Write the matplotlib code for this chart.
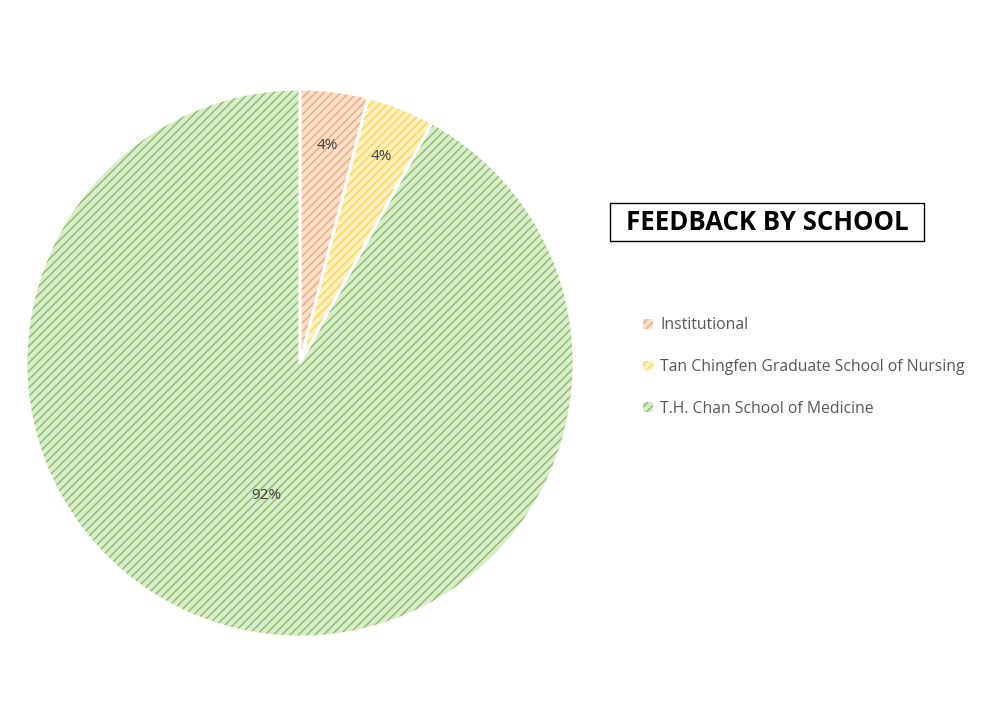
import numpy as np
import matplotlib.pyplot as plt
from matplotlib.patches import Patch, Rectangle

plt.rcParams["font.family"] = ["Open Sans", "DejaVu Sans"]
plt.rcParams["hatch.linewidth"] = 1.1

schools = ["Institutional", "Tan Chingfen Graduate School of Nursing", "T.H. Chan School of Medicine"]
counts = [1, 1, 23]

line_colors = ["#f2aa7c", "#ffd45a", "#8dc06f"]
fill_colors = ["#fcdfc9", "#fff1bd", "#d9edcb"]
label_dist = [0.80, 0.81, 0.50]

fig = plt.figure(figsize=(9.85, 7.2), dpi=100)
R = 274
cx, cy = 300, 363
ax = fig.add_axes([(cx - R) / 985, (720 - cy - R) / 720, 2 * R / 985, 2 * R / 720])

wedges, texts, autotexts = ax.pie(counts, startangle=90, counterclock=False,
                                  autopct="%1.0f%%", pctdistance=0.8,
                                  wedgeprops=dict(linewidth=0),
                                  textprops=dict(fontsize=11, color="#404040"))
for w, lc, fc in zip(wedges, line_colors, fill_colors):
    w.set_facecolor(fc)
    w.set_edgecolor(lc)
    w.set_hatch("////")
    w.set_linewidth(0)

# white separators
ax.pie(counts, startangle=90, counterclock=False,
       wedgeprops=dict(facecolor="none", edgecolor="white", linewidth=2))

for w, t, d in zip(wedges, autotexts, label_dist):
    ang = np.deg2rad((w.theta1 + w.theta2) / 2)
    t.set_position((d * np.cos(ang), d * np.sin(ang)))

ax.set_xlim(-1, 1)
ax.set_ylim(-1, 1)
ax.axis("off")

# title with box
fig.patches.append(Rectangle((610 / 985, 1 - 241 / 720), 314 / 985, 38 / 720,
                             transform=fig.transFigure, facecolor="white",
                             edgecolor="black", linewidth=1))
fig.text(767 / 985, 1 - 222 / 720, "FEEDBACK BY SCHOOL", fontsize=18.5, fontweight="bold",
         ha="center", va="center", color="black")

handles = [Patch(facecolor=fc, edgecolor=lc, hatch="////", linewidth=0)
           for lc, fc in zip(line_colors, fill_colors)]
fig.legend(handles, schools, loc="upper left", bbox_to_anchor=(629 / 985, 1 - 303 / 720),
           frameon=False, fontsize=11.3, labelcolor="#595959",
           handlelength=0.6, handleheight=0.6, handletextpad=0.5, labelspacing=1.65)

fig.savefig("out.png", dpi=100)
